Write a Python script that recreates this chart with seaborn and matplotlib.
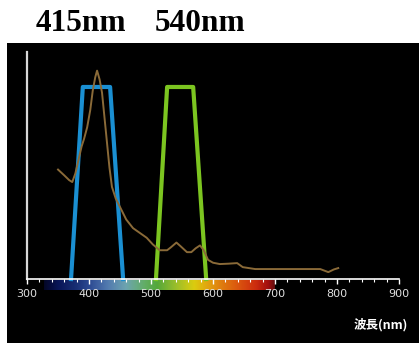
import numpy as np
import pandas as pd
import seaborn as sns
import matplotlib.pyplot as plt
from matplotlib.colors import LinearSegmentedColormap

# filter bands (nm) and relative transmission
blue_nm = [371, 390, 434, 455]
blue_val = [0, 1, 1, 0]
green_nm = [508, 526, 568, 589]
green_val = [0, 1, 1, 0]

# absorption curve (nm, relative height)
curve_nm = [350, 360, 368, 373, 378, 383, 388, 392, 397, 402, 406, 410, 413,
            417, 421, 425, 429, 433, 437, 443, 450, 460, 471, 482, 493, 503,
            514, 526, 532, 541, 548, 558, 565, 572, 579, 585, 592, 600, 611,
            625, 639, 648, 668, 700, 740, 773, 786, 795, 802]
curve_val = [0.57, 0.54, 0.515, 0.505, 0.55, 0.62, 0.69, 0.73, 0.79, 0.88,
             0.98, 1.05, 1.085, 1.04, 0.97, 0.84, 0.71, 0.58, 0.48, 0.42,
             0.375, 0.31, 0.265, 0.24, 0.215, 0.18, 0.15, 0.15, 0.165, 0.19,
             0.17, 0.14, 0.14, 0.16, 0.175, 0.15, 0.10, 0.085, 0.078, 0.08,
             0.083, 0.062, 0.052, 0.052, 0.052, 0.052, 0.036, 0.05, 0.057]

peak_labels = ['415nm', '540nm']
xticks = [300, 400, 500, 600, 700, 800, 900]

# spectrum strip colours
spec_nm = [328, 350, 380, 400, 430, 460, 490, 510, 540, 570, 590, 610, 640, 670, 690, 700]
spec_col = ['#05082a', '#0a1760', '#1c3580', '#3050a0', '#5a86c0', '#78b4c0',
            '#6cbf70', '#5cb840', '#a8d030', '#f0e010', '#f8b810', '#f59010',
            '#f06010', '#e03010', '#b01010', '#701010']

blue_df = pd.DataFrame({'nm': blue_nm, 'val': blue_val})
green_df = pd.DataFrame({'nm': green_nm, 'val': green_val})
curve_df = pd.DataFrame({'nm': curve_nm, 'val': curve_val})

fig = plt.figure(figsize=(4.19, 3.43), dpi=100)
fig.patch.set_facecolor('white')
ax = fig.add_axes([7 / 419, 0, 412 / 419, 300 / 343])
ax.set_facecolor('black')

# spectrum strip under the axis
pos = [(v - spec_nm[0]) / (spec_nm[-1] - spec_nm[0]) for v in spec_nm]
cmap = LinearSegmentedColormap.from_list('spec', list(zip(pos, spec_col)))
grad = np.linspace(0, 1, 256).reshape(1, -1)
ax.imshow(grad, cmap=cmap, aspect='auto', zorder=0, alpha=0.92,
          extent=[spec_nm[0], spec_nm[-1], -0.055, -0.003])

sns.lineplot(data=blue_df, x='nm', y='val', sort=False, color='#1a8fd2',
             linewidth=3.0, ax=ax)
sns.lineplot(data=green_df, x='nm', y='val', sort=False, color='#7cc520',
             linewidth=3.0, ax=ax)
sns.lineplot(data=curve_df, x='nm', y='val', sort=False, color='#8a6a38',
             linewidth=1.4, ax=ax)

ax.set_xlim(267.7, 932.3)
ax.set_ylim(-0.333, 1.229)
ax.set_xlabel('')
ax.set_ylabel('')

for s in ['top', 'right']:
    ax.spines[s].set_visible(False)
ax.spines['left'].set_position(('data', 300))
ax.spines['left'].set_bounds(0, 1.18)
ax.spines['left'].set_color('#d8d8d8')
ax.spines['left'].set_linewidth(1.6)
ax.spines['bottom'].set_position(('data', 0))
ax.spines['bottom'].set_bounds(300, 900)
ax.spines['bottom'].set_color('white')
ax.spines['bottom'].set_linewidth(1.2)

ax.set_yticks([])
ax.set_xticks(xticks)
ax.set_xticks(np.arange(300, 901, 20), minor=True)
ax.tick_params(axis='x', which='major', direction='out', length=3.5, width=1,
               color='white', labelcolor='#e0e0e0', labelsize=8, pad=3.5)
ax.tick_params(axis='x', which='minor', direction='out', length=1.8, width=0.8,
               color='white')

ax.text(0.973, 0.06, '波長(nm)', transform=ax.transAxes, ha='right', va='center',
        color='white', fontsize=9, fontweight='bold',
        family=['Noto Sans CJK JP', 'DejaVu Sans'])

fig.text(36 / 419, 1 - 31 / 343, peak_labels[0], ha='left', va='baseline',
         fontsize=22.5, fontweight='bold', family='Liberation Serif', color='black')
fig.text(155 / 419, 1 - 31 / 343, peak_labels[1], ha='left', va='baseline',
         fontsize=22.5, fontweight='bold', family='Liberation Serif', color='black')

fig.savefig('out.png', dpi=100, facecolor='white')
